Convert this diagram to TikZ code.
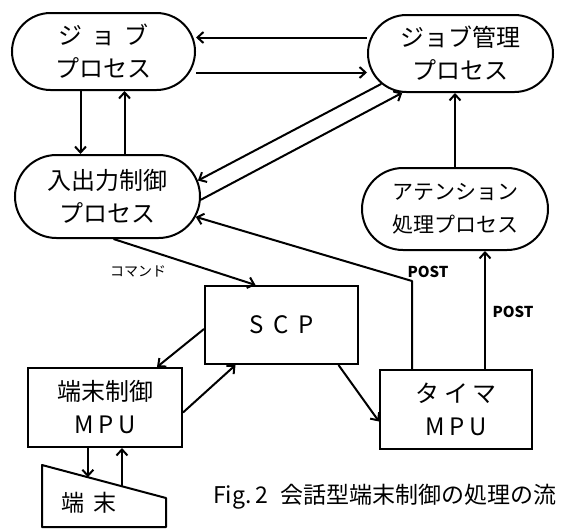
\documentclass[tikz,border=0pt]{standalone}
\usepackage{fontspec}
\setmainfont{Noto Sans CJK JP}
\usetikzlibrary{arrows.meta,shapes.misc,calc}
\tikzset{
  proc/.style={rounded rectangle, draw, line width=2pt, inner sep=0pt, align=center, font=\fontsize{24}{33}\selectfont},
  box/.style={rectangle, draw, line width=2pt, inner sep=0pt, align=center, font=\fontsize{24}{33}\selectfont},
  arr/.style={line width=2pt, -{Straight Barb[length=6pt,width=11pt]}},
  lbl/.style={font=\fontsize{14}{16}\selectfont, inner sep=0pt},
}
\begin{document}
\begin{tikzpicture}[x=1pt,y=-1pt]
\useasboundingbox (0,0) rectangle (561,530);
% nodes
\node[proc, minimum width=183pt, minimum height=77pt] (jp) at (103.5,51.5) {ジ\hspace{9pt}ョ\hspace{9pt}ブ\\プロセス};
\node[proc, minimum width=185pt, minimum height=77pt] (jm) at (460.5,53.5) {ジョブ管理\\プロセス};
\node[proc, minimum width=185pt, minimum height=83pt] (io) at (107.5,196.5) {入出力制御\\プロセス};
\node[proc, minimum width=186pt, minimum height=82pt, font=\fontsize{21}{33}\selectfont] (at) at (455,209) {アテンション\\処理プロセス};
\node[box, minimum width=153pt, minimum height=78pt] (scp) at (281.5,325) {S\hspace{10pt}C\hspace{10pt}P};
\node[box, minimum width=154pt, minimum height=79pt] (tm) at (105,407.5) {端末制御\\M\hspace{5pt}P\hspace{5pt}U};
\node[box, minimum width=152pt, minimum height=79pt] (ti) at (456,409.5) {タ\hspace{5pt}イ\hspace{5pt}マ\\M\hspace{5pt}P\hspace{5pt}U};
% terminal (trapezoid)
\coordinate (ttl) at (42,465);
\coordinate (ttr) at (166,498);
\coordinate (tbr) at (166,527);
\coordinate (tbl) at (42,527);
\draw[line width=2pt, line join=round] (ttl) -- (ttr) -- (tbr) -- (tbl) -- cycle;
\node[font=\fontsize{23}{26}\selectfont, inner sep=0pt] (term) at (89,503) {端\hspace{10pt}末};
\coordinate (p1) at ($(ttl)!0.37!(ttr)$);
\coordinate (p2) at ($(ttl)!0.645!(ttr)$);
% connectors
\draw[arr] ([yshift=16pt]jm.west) -- ([yshift=16pt]jm.west -| jp.east);
\draw[arr] ([yshift=-21pt]jp.east) -- ([yshift=-21pt]jp.east -| jm.west);
\draw[arr] ([xshift=-23pt]jp.south) -- ([xshift=-23pt]jp.south |- io.north);
\draw[arr] ([xshift=17pt]io.north) -- ([xshift=17pt]io.north |- jp.south);
\draw[arr] (jm.201) -- (io.10);
\draw[arr] (io.-2) -- (jm.214);
\draw[arr] (at.north) -- (at.north |- jm.south);
\draw[arr] ([xshift=29pt]ti.north) -- ([xshift=29pt]ti.north |- at.south);
\coordinate (bend) at ([xshift=-44pt,yshift=88pt]ti.north);
\draw[arr, line join=round] ([xshift=-44pt]ti.north) -- (bend) -- (io.-13);
\node[lbl, font=\fontsize{15}{16}\selectfont\bfseries] (post1) at (428,272) {POST};
\node[lbl, font=\fontsize{15}{16}\selectfont\bfseries] (post2) at (513,312) {POST};
\draw[arr] ([xshift=6pt]io.south) -- ([xshift=-26pt]scp.north);
\node[lbl] (cmd) at (138,271) {コマンド};
\draw[arr] ([yshift=-4pt]scp.west) -- ([xshift=52pt]tm.north);
\draw[arr] ([yshift=-5pt]tm.east) -- ([xshift=-46pt]scp.south);
\draw[arr] ([xshift=57pt]scp.south) -- ([yshift=-12pt]ti.west);
\draw[arr] (tm.south -| p1) -- (p1);
\draw[arr] (p2) -- (tm.south -| p2);
% caption
\node[anchor=west, inner sep=0pt, font=\fontsize{23}{26}\selectfont] (cap) at (213,497) {Fig.\,2\hspace{12pt}会話型端末制御の処理の流};
\end{tikzpicture}
\end{document}
